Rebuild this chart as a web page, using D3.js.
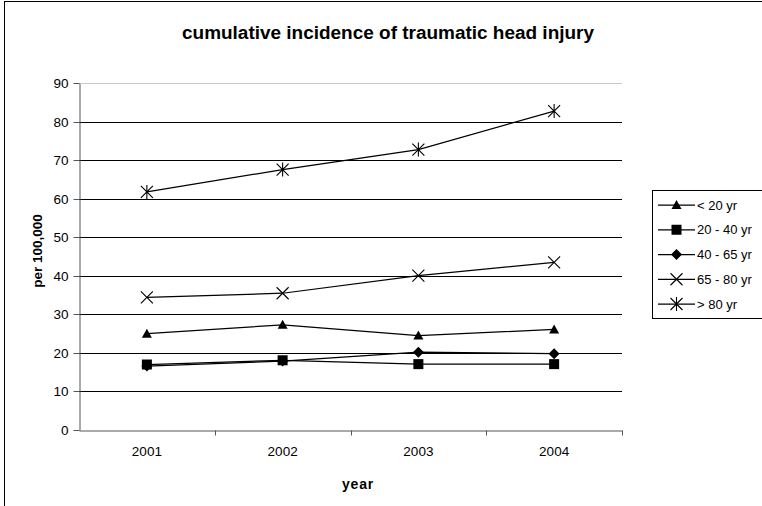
<!DOCTYPE html>
<html><head><meta charset="utf-8">
<script src="https://cdn.jsdelivr.net/npm/d3@7"></script>
<style>body{margin:0;background:#fff}svg{display:block}text{font-family:"Liberation Sans",Arial,sans-serif;fill:#000}</style>
</head><body>
<svg id="c" width="762" height="506"></svg>
<script>
const years = ["2001","2002","2003","2004"];
const seriesNames = ["< 20 yr","20 - 40 yr","40 - 65 yr","65 - 80 yr","> 80 yr"];
const lt20 = [25.0, 27.3, 24.5, 26.1];
const s20to40 = [17.0, 18.1, 17.1, 17.1];
const s40to65 = [16.6, 17.9, 20.2, 19.8];
const s65to80 = [34.4, 35.5, 40.1, 43.5];
const gt80 = [61.8, 67.6, 72.8, 82.8];
const yTicks = [0,10,20,30,40,50,60,70,80,90];
const markers = ["triangle","square","diamond","x","asterisk"];
const allSeries = [lt20, s20to40, s40to65, s65to80, gt80];

const svg = d3.select("#c");
svg.append("rect").attr("x",4.5).attr("y",1.5).attr("width",900).attr("height",600)
  .attr("fill","#fff").attr("stroke","#000").attr("stroke-width",1);

const L=79, R=622, T=83.3, B=430;
const x = d3.scaleBand().domain(years).range([L,R]).padding(0);
const y = d3.scaleLinear().domain([0,90]).range([B,T]);

svg.append("g").selectAll("line").data(yTicks.filter(d=>d>0)).join("line")
  .attr("x1",L).attr("x2",R).attr("y1",d=>Math.round(y(d))+0.5).attr("y2",d=>Math.round(y(d))+0.5)
  .attr("stroke",d=>d===90?"#c8c8c8":"#000").attr("stroke-width",1);

const yAxis = d3.axisLeft(y).tickValues(yTicks).tickSize(6).tickPadding(5).tickSizeOuter(0);
const gy = svg.append("g").attr("transform",`translate(${L+0.5},0)`).call(yAxis);
gy.selectAll("text").style("font-size","13.5px").attr("font-family","Liberation Sans, Arial");
gy.selectAll("line,path").attr("stroke","#555");
gy.selectAll(".tick").attr("transform",d=>`translate(0,${Math.round(y(d))+0.5})`);

const xAxis = d3.axisBottom(x).tickSize(0).tickPadding(16).tickSizeOuter(0);
const gx = svg.append("g").attr("transform",`translate(0,${B+0.5})`).call(xAxis);
gx.selectAll("text").style("font-size","13.5px");
gx.select("path").attr("stroke","#555");
gx.append("g").selectAll("line").data(years.slice(1).concat(["end"])).join("line")
  .attr("x1",d=>Math.round(d==="end"?R:x(d))+0.5).attr("x2",d=>Math.round(d==="end"?R:x(d))+0.5)
  .attr("y1",0).attr("y2",5).attr("stroke","#555");

const cx = d=>x(d)+x.bandwidth()/2;
const line = d3.line().x((v,i)=>cx(years[i])).y(v=>y(v));
function drawMarker(g, type, px, py){
  if(type==="triangle"){
    g.append("path").attr("d",`M${px},${py-5}L${px+5},${py+4}L${px-5},${py+4}Z`).attr("fill","#000");
  } else if(type==="square"){
    g.append("rect").attr("x",px-5).attr("y",py-5).attr("width",10).attr("height",10).attr("fill","#000");
  } else if(type==="diamond"){
    g.append("path").attr("d",`M${px},${py-5.5}L${px+5.5},${py}L${px},${py+5.5}L${px-5.5},${py}Z`).attr("fill","#000");
  } else if(type==="x"){
    g.append("path").attr("d",`M${px-6},${py-6}L${px+6},${py+6}M${px-6},${py+6}L${px+6},${py-6}`).attr("stroke","#000").attr("stroke-width",1.1).attr("fill","none");
  } else {
    g.append("path").attr("d",`M${px-6},${py-6}L${px+6},${py+6}M${px-6},${py+6}L${px+6},${py-6}M${px},${py-7}L${px},${py+7}`).attr("stroke","#000").attr("stroke-width",1.1).attr("fill","none");
  }
}
allSeries.forEach((vals,si)=>{
  const g = svg.append("g");
  g.append("path").datum(vals).attr("d",line).attr("fill","none").attr("stroke","#000").attr("stroke-width",1.25);
  vals.forEach((v,i)=>drawMarker(g, markers[si], cx(years[i]), y(v)));
});

svg.append("text").attr("x",388).attr("y",39).attr("text-anchor","middle")
  .attr("textLength",412).attr("lengthAdjust","spacingAndGlyphs")
  .style("font-size","17.5px").style("font-weight","bold").text("cumulative incidence of traumatic head injury");
svg.append("text").attr("x",358).attr("y",489).attr("text-anchor","middle")
  .style("font-size","14px").style("font-weight","bold").style("letter-spacing","0.8px").text("year");
svg.append("text").attr("transform","translate(42,251) rotate(-90)").attr("text-anchor","middle")
  .style("font-size","13.5px").style("font-weight","bold").text("per 100,000");

const lg = svg.append("g");
lg.append("rect").attr("x",652.5).attr("y",190.5).attr("width",200).attr("height",128)
  .attr("fill","#fff").attr("stroke","#000").attr("stroke-width",1);
seriesNames.forEach((n,i)=>{
  const ly = 205 + i*24.75;
  lg.append("line").attr("x1",658).attr("x2",695).attr("y1",ly).attr("y2",ly).attr("stroke","#000").attr("stroke-width",1.25);
  drawMarker(lg, markers[i], 676.5, ly);
  lg.append("text").attr("x",697).attr("y",ly+4.5).style("font-size","13px").text(n);
});
</script>
</body></html>
